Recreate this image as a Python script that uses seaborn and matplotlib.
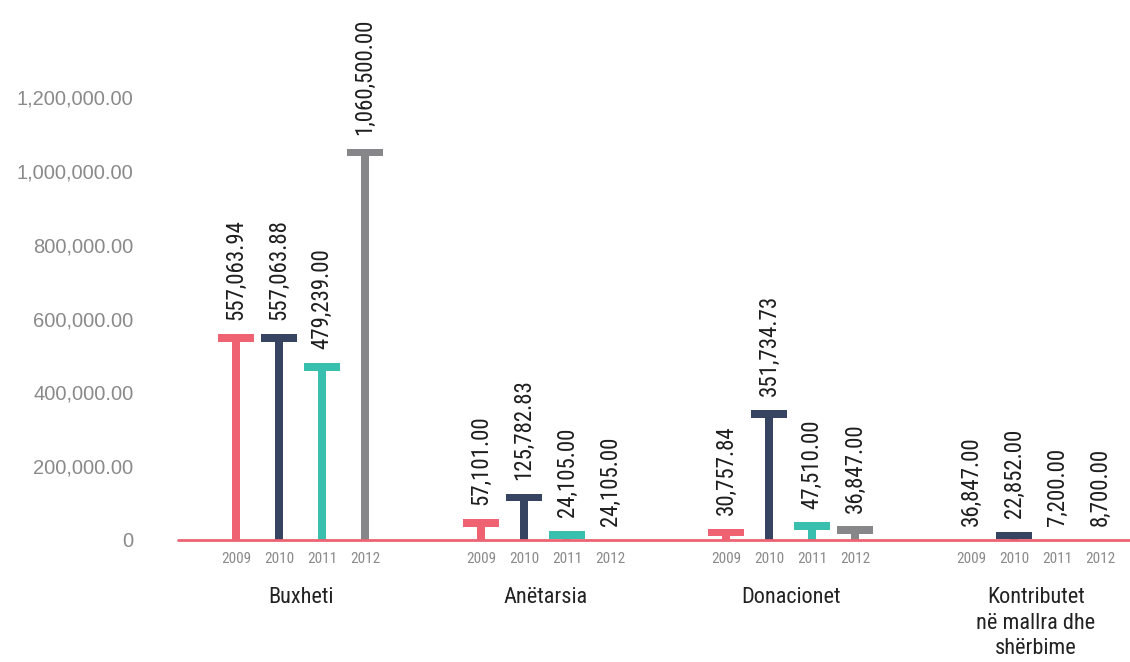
import numpy as np
import pandas as pd
import matplotlib.pyplot as plt
import seaborn as sns
from matplotlib.ticker import FuncFormatter

# --- Data ---
categories = ["Buxheti", "Anëtarsia", "Donacionet", "Kontributet\nnë mallra dhe\nshërbime"]
years = ["2009", "2010", "2011", "2012"]

# bar heights as drawn in the chart (a few labelled values have no visible bar)
buxheti = [557063.94, 557063.88, 479239.00, 1060500.00]
anetarsia = [57101.00, 125782.83, 24105.00, 0.0]
donacionet = [30757.84, 351734.73, 47510.00, 36847.00]
kontributet = [0.0, 22852.00, 0.0, 0.0]

# the printed labels
buxheti_lbl = ["557,063.94", "557,063.88", "479,239.00", "1,060,500.00"]
anetarsia_lbl = ["57,101.00", "125,782.83", "24,105.00", "24,105.00"]
donacionet_lbl = ["30,757.84", "351,734.73", "47,510.00", "36,847.00"]
kontributet_lbl = ["36,847.00", "22,852.00", "7,200.00", "8,700.00"]

# --- Style ---
COLORS = ["#EF6272", "#364462", "#38BFAE", "#87878A"]
BASE_RED = "#EC6473"
GROUP_STEP = 5.7
CAP_H = 21000
NARROW = ['Roboto Condensed', 'DejaVu Sans']

sns.set_style("white")
plt.rcParams['font.family'] = NARROW

rows = []
series = [buxheti, anetarsia, donacionet, kontributet]
labels = [buxheti_lbl, anetarsia_lbl, donacionet_lbl, kontributet_lbl]
for g, (vals, lbls) in enumerate(zip(series, labels)):
    for j, yr in enumerate(years):
        rows.append({"group": categories[g], "year": yr,
                     "pos": g * GROUP_STEP + j, "value": vals[j], "label": lbls[j]})
df = pd.DataFrame(rows)

fig = plt.figure(figsize=(11.3, 6.62), dpi=100)
ax = fig.add_axes([0.1575, 0.1843, 0.8425, 0.8157])

# stems
sns.barplot(data=df, x="pos", y="value", hue="year", palette=COLORS, native_scale=True,
            width=0.19, dodge=False, legend=False, errorbar=None, saturation=1, ax=ax,
            edgecolor="none", linewidth=0, zorder=2)

# caps of the T
cap_colors = [COLORS[years.index(y)] for y in df["year"]]
ax.bar(df["pos"], CAP_H, bottom=df["value"] - CAP_H, width=0.84, color=cap_colors,
       edgecolor="none", linewidth=0, zorder=2)

# value labels
for _, r in df.iterrows():
    ax.annotate(r["label"], xy=(r["pos"], r["value"]), xytext=(0, 10),
                textcoords="offset points", rotation=90, ha="center", va="bottom",
                fontsize=16.5, color="#1e1e1e")

ax.axhline(0, color=BASE_RED, lw=2, zorder=3, clip_on=False)

ax.set_ylim(0, 1.4628e6)
ax.set_xlim(-1.35, 3 * GROUP_STEP + 3 + 0.69)
ax.set_yticks(np.arange(0, 1.2e6 + 1, 2e5))
ax.yaxis.set_major_formatter(FuncFormatter(lambda x, p: "0" if x == 0 else f"{x:,.2f}"))
for t in ax.get_yticklabels():
    t.set_family(['Liberation Sans', 'DejaVu Sans'])
ax.tick_params(axis="y", length=0, pad=32, labelsize=14.5, labelcolor="#8a8a8a")

ax.set_xticks(df["pos"])
ax.set_xticklabels(df["year"])
ax.tick_params(axis="x", length=0, pad=9, labelsize=11, labelcolor="#8a8a8a")
ax.set_xlabel("")
ax.set_ylabel("")
sns.despine(ax=ax, left=True, bottom=True)

# group names under the year ticks
for g, name in enumerate(categories):
    ax.annotate(name, xy=(g * GROUP_STEP + 1.5, 0), xycoords=("data", "axes fraction"),
                xytext=(0, -34), textcoords="offset points", ha="center", va="top",
                fontsize=16, color="#222222", linespacing=1.28)

fig.savefig("out.png", dpi=100)
